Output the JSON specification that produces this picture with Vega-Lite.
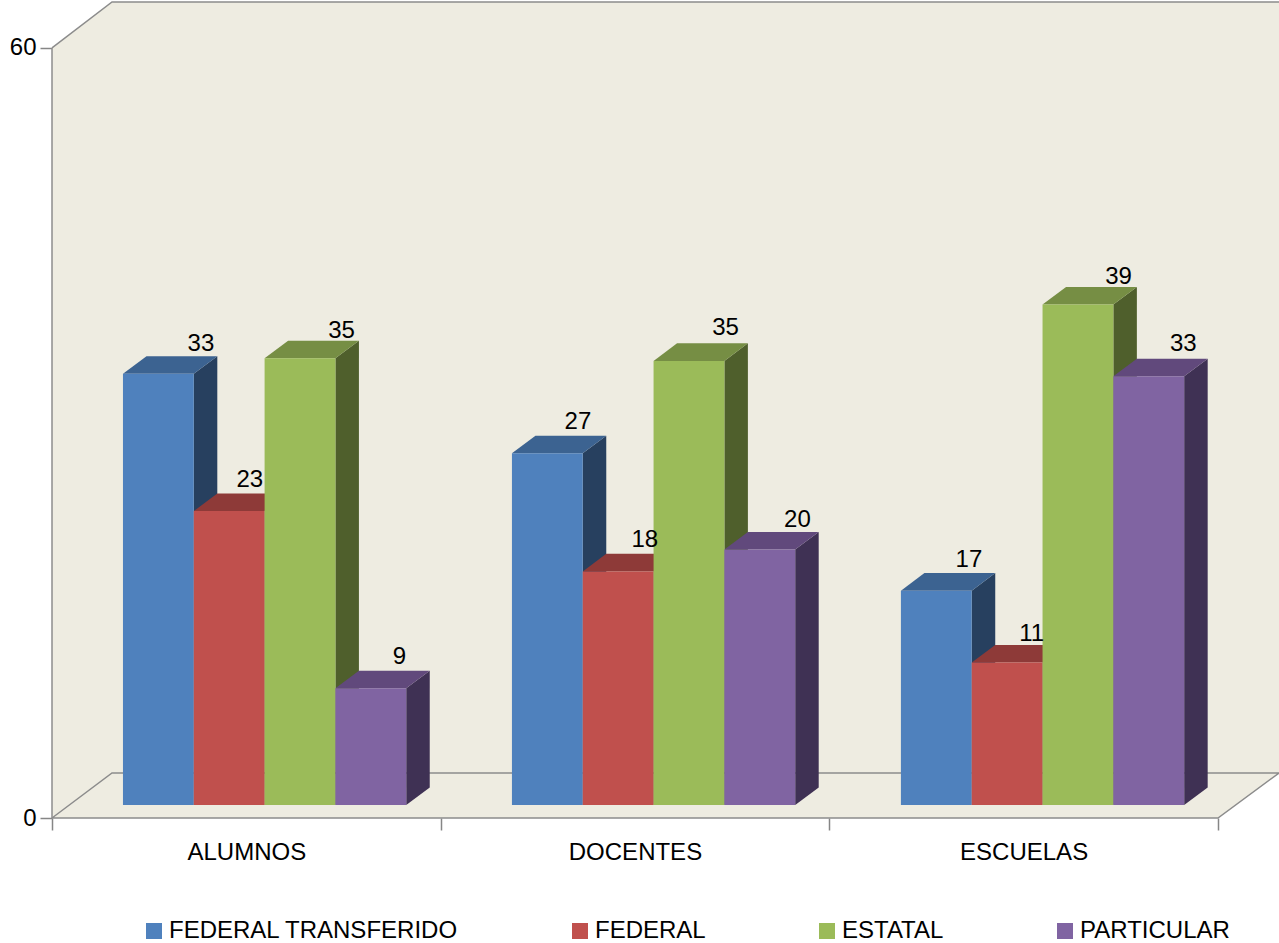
{
"$schema":"https://vega.github.io/schema/vega-lite/v6.json",
"width":1227,"height":816,
"autosize":{"type":"none"},
"padding":{"left":52,"top":2,"right":0,"bottom":125},
"background":"white",
"config":{"view":{"stroke":null},"font":"Liberation Sans"},
"encoding":{
 "x":{"field":"x","type":"quantitative","title":null,
  "scale":{"domain":[0,3.157],"nice":false,"zero":false},
  "axis":{"values":[0,1,2,3],"domain":false,"grid":false,"tickSize":12,"tickColor":"#868686","tickWidth":1.5,"labelFontSize":24,"labelColor":"#000000","labelFont":"Liberation Sans","labelPadding":10,"labelOffset":194.3,"labelFlush":false,"labelBound":false,"labelOverlap":false,"labelExpr":"datum.value==0?'ALUMNOS':datum.value==1?'DOCENTES':datum.value==2?'ESCUELAS':''"}},
 "y":{"field":"y","type":"quantitative","title":null,
  "scale":{"domain":[0,63.58],"nice":false,"zero":false},
  "axis":{"values":[0,60],"domain":false,"grid":false,"tickSize":12,"tickColor":"#868686","tickWidth":1.5,"labelFontSize":24,"labelColor":"#000000","labelFont":"Liberation Sans","labelPadding":4,"labelOverlap":false,"labelBound":false}}
},
"layer":[
 {"data":{"values":[
   {"x":0,"y":60,"y2":0},
   {"x":0.1544,"y":63.58,"y2":0},
   {"x":3,"y":63.58,"y2":0},
   {"x":3.157,"y":63.58,"y2":3.506}]},
  "mark":{"type":"area","color":"#EEECE1","clip":false},
  "encoding":{"y2":{"field":"y2"}}},
 {"data":{"values":[
   {"edge":"top","k":0,"x":0,"y":60},
   {"edge":"top","k":1,"x":0.1544,"y":63.58},
   {"edge":"top","k":2,"x":3.157,"y":63.58},
   {"edge":"floor","k":0,"x":0,"y":0},
   {"edge":"floor","k":1,"x":0.1544,"y":3.506},
   {"edge":"floor","k":2,"x":3.157,"y":3.506},
   {"edge":"floor","k":3,"x":3,"y":0},
   {"edge":"floor","k":4,"x":0,"y":0},
   {"edge":"left","k":0,"x":0,"y":0},
   {"edge":"left","k":1,"x":0,"y":60}]},
  "mark":{"type":"line","color":"#8C8C8C","strokeWidth":1.5,"clip":false},
  "encoding":{"detail":{"field":"edge"},"order":{"field":"k","type":"quantitative"}}},
 {"data":{"values":[
   {"group":"ALUMNOS","series":"FEDERAL TRANSFERIDO","value":33.6,"label":"33"},
   {"group":"ALUMNOS","series":"FEDERAL","value":22.9,"label":"23"},
   {"group":"ALUMNOS","series":"ESTATAL","value":34.8,"label":"35"},
   {"group":"ALUMNOS","series":"PARTICULAR","value":9.1,"label":"9"},
   {"group":"DOCENTES","series":"FEDERAL TRANSFERIDO","value":27.4,"label":"27"},
   {"group":"DOCENTES","series":"FEDERAL","value":18.2,"label":"18"},
   {"group":"DOCENTES","series":"ESTATAL","value":34.6,"label":"35"},
   {"group":"DOCENTES","series":"PARTICULAR","value":19.9,"label":"20"},
   {"group":"ESCUELAS","series":"FEDERAL TRANSFERIDO","value":16.7,"label":"17"},
   {"group":"ESCUELAS","series":"FEDERAL","value":11.1,"label":"11"},
   {"group":"ESCUELAS","series":"ESTATAL","value":39.0,"label":"39"},
   {"group":"ESCUELAS","series":"PARTICULAR","value":33.4,"label":"33"}]},
  "transform":[
   {"calculate":"indexof(['ALUMNOS','DOCENTES','ESCUELAS'],datum.group)","as":"gi"},
   {"calculate":"indexof(['FEDERAL TRANSFERIDO','FEDERAL','ESTATAL','PARTICULAR'],datum.series)","as":"si"},
   {"calculate":"datum.group+'|'+datum.series","as":"key"},
   {"calculate":"datum.gi*1.0008+0.1826+0.1822*datum.si","as":"x0"},
   {"calculate":"datum.x0+0.1822","as":"x1"},
   {"calculate":"datum.value+1.013","as":"top"}
  ],
  "resolve":{"scale":{"color":"independent"}},
  "layer":[
   {"transform":[
     {"calculate":"[0,1]","as":"t"},{"flatten":["t"]},
     {"calculate":"datum.x1+datum.t*0.0605","as":"x"},
     {"calculate":"datum.top+datum.t*1.37","as":"y"},
     {"calculate":"1.013+datum.t*1.37","as":"yb"}],
    "mark":{"type":"area","clip":false},
    "encoding":{"y2":{"field":"yb"},"detail":{"field":"key","type":"nominal"},
     "color":{"field":"series","type":"nominal","legend":null,
      "scale":{"domain":["FEDERAL TRANSFERIDO","FEDERAL","ESTATAL","PARTICULAR"],"range":["#27405F","#632523","#4F5F2C","#3F3154"]}}}},
   {"transform":[
     {"calculate":"[0,1]","as":"t"},{"flatten":["t"]},
     {"calculate":"datum.x0+datum.t*0.0605","as":"x"},
     {"calculate":"datum.x1+datum.t*0.0605","as":"xr"},
     {"calculate":"datum.top+datum.t*1.37","as":"y"}],
    "mark":{"type":"area","orient":"horizontal","clip":false},
    "encoding":{"x2":{"field":"xr"},"detail":{"field":"key","type":"nominal"},
     "color":{"field":"series","type":"nominal","legend":null,
      "scale":{"domain":["FEDERAL TRANSFERIDO","FEDERAL","ESTATAL","PARTICULAR"],"range":["#3C6391","#8E3A38","#768E44","#61497C"]}}}},
   {"transform":[
     {"calculate":"datum.x0","as":"x"},
     {"calculate":"datum.top","as":"y"}],
    "mark":{"type":"rect","clip":false},
    "encoding":{"x2":{"field":"x1"},"y2":{"datum":1.013},
     "color":{"field":"series","type":"nominal",
      "scale":{"domain":["FEDERAL TRANSFERIDO","FEDERAL","ESTATAL","PARTICULAR"],"range":["#4F81BD","#C0504D","#9BBB59","#8064A2"]},
      "legend":{"title":null,"orient":"none","legendX":90,"legendY":917,"direction":"horizontal","columns":4,"symbolType":"square","symbolSize":256,"symbolStrokeWidth":0,"labelFontSize":24,"labelColor":"#000000","labelFont":"Liberation Sans","labelOffset":3,"columnPadding":109,"padding":0,"labelLimit":400}}}},
   {"transform":[
     {"calculate":"datum.x0+[[78,56,77,64],[66,62,72,73],[68,60,76,70]][datum.gi][datum.si]/388.67","as":"x"},
     {"calculate":"datum.top+[[30,31,27,31],[31,31,33,30],[31,29,27,32]][datum.gi][datum.si]/12.834","as":"y"}],
    "mark":{"type":"text","fontSize":24,"font":"Liberation Sans","color":"#000000","align":"center","baseline":"middle","clip":false},
    "encoding":{"text":{"field":"label"}}}
  ]}
]
}
